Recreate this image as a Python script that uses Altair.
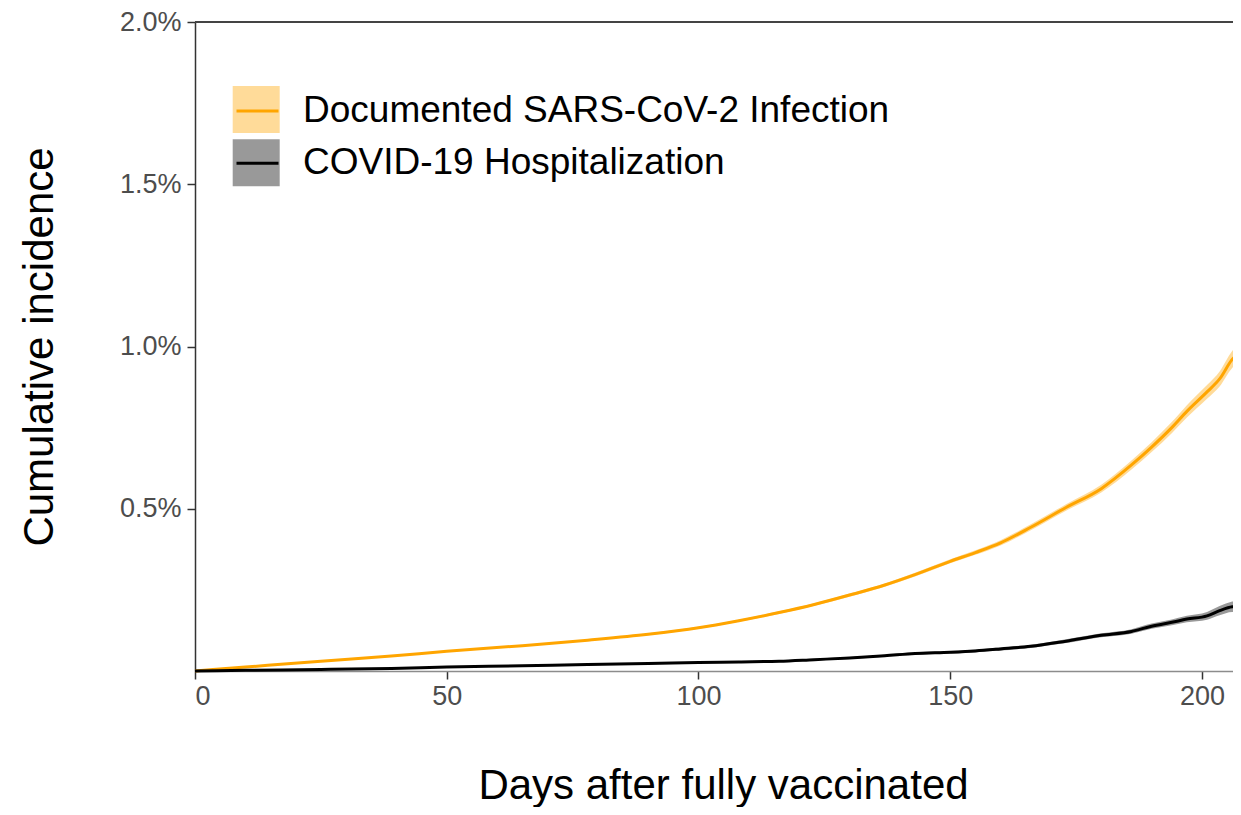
import altair as alt
import pandas as pd

# ---- data (cumulative incidence in %) ----
series = ["Documented SARS-CoV-2 Infection", "COVID-19 Hospitalization"]
days = [0, 10, 25, 39, 50, 65, 78, 90, 100, 108, 116, 123, 130, 137, 143,
        150, 155, 160, 166, 173, 180, 186, 190, 194, 197, 201, 203.5, 206, 207.75]
infection = [0, 0.012, 0.030, 0.046, 0.061, 0.078, 0.095, 0.113, 0.133, 0.155,
             0.180, 0.205, 0.234, 0.265, 0.297, 0.338, 0.365, 0.395, 0.443,
             0.504, 0.562, 0.635, 0.690, 0.750, 0.800, 0.860, 0.900, 0.960, 0.985]
infection_ci = [0, 0, 0.001, 0.001, 0.002, 0.002, 0.002, 0.003, 0.003, 0.003,
                0.004, 0.004, 0.005, 0.005, 0.006, 0.006, 0.007, 0.008, 0.009,
                0.010, 0.012, 0.014, 0.015, 0.017, 0.019, 0.021, 0.023, 0.026, 0.028]
hosp = [0, 0.002, 0.005, 0.008, 0.012, 0.016, 0.020, 0.023, 0.026, 0.028,
        0.030, 0.035, 0.040, 0.047, 0.054, 0.058, 0.062, 0.068, 0.076,
        0.092, 0.110, 0.122, 0.138, 0.150, 0.160, 0.170, 0.186, 0.198, 0.200]
hosp_ci = [0, 0, 0.001, 0.001, 0.001, 0.001, 0.002, 0.002, 0.002, 0.002,
           0.003, 0.003, 0.003, 0.003, 0.004, 0.004, 0.004, 0.005, 0.005,
           0.006, 0.006, 0.007, 0.008, 0.009, 0.010, 0.012, 0.014, 0.016, 0.018]
x_ticks = [0, 50, 100, 150, 200]
y_ticks = [0.005, 0.010, 0.015, 0.020]
colors = ["#FFA500", "#000000"]

rows = []
for vals, cis, name in [(infection, infection_ci, series[0]), (hosp, hosp_ci, series[1])]:
    for d, v, c in zip(days, vals, cis):
        rows.append({"day": d, "value": v / 100, "lo": (v - c) / 100,
                     "hi": (v + c) / 100, "series": name, "band": name})
df = pd.DataFrame(rows)

FONT = "Liberation Sans"
W, H = 1038, 649

xscale = alt.Scale(domain=[0, 206.16], nice=False, zero=True)
yscale = alt.Scale(domain=[0, 0.02], nice=False)

xaxis = alt.Axis(values=x_ticks, title="Days after fully vaccinated", grid=False,
                 domainColor="#8c8c8c", domainWidth=1.5, tickColor="#333333",
                 tickWidth=1.5, tickSize=8, labelFontSize=27, labelColor="#4D4D4D",
                 labelPadding=4, titleFontSize=42, titleFontWeight="normal",
                 titleColor="#000000", titleBaseline="alphabetic", titleY=127,
                 titleX=528)
yaxis = alt.Axis(values=y_ticks, format=".1%", title="Cumulative incidence", grid=False,
                 domainColor="#333333", domainWidth=1.5, tickColor="#333333",
                 tickWidth=1.5, tickSize=8, labelFontSize=27, labelColor="#4D4D4D",
                 labelPadding=6, titleFontSize=42, titleFontWeight="normal",
                 titleColor="#000000", titleBaseline="alphabetic", titleX=-143)

band = alt.Chart(df).mark_area(opacity=0.4, interpolate="monotone").encode(
    x=alt.X("day:Q", scale=xscale, axis=xaxis),
    y=alt.Y("lo:Q", scale=yscale, axis=yaxis),
    y2="hi:Q",
    fill=alt.Fill("band:N", scale=alt.Scale(domain=series, range=colors),
                  legend=alt.Legend(orient="none", legendX=37.7, legendY=64,
                                    title=None, symbolType="square", symbolSize=2209,
                                    symbolStrokeWidth=0, symbolOpacity=0.4,
                                    labelExpr="''", labelFontSize=10,
                                    rowPadding=6.3, padding=0, offset=0)),
)

line = alt.Chart(df).mark_line(strokeWidth=3, interpolate="monotone").encode(
    x=alt.X("day:Q", scale=xscale),
    y=alt.Y("value:Q", scale=yscale),
    stroke=alt.Stroke("series:N", scale=alt.Scale(domain=series, range=colors),
                      legend=alt.Legend(orient="none", legendX=40, legendY=66.5,
                                        title=None, symbolType="stroke", symbolSize=1764,
                                        symbolStrokeWidth=3, labelFontSize=37,
                                        labelColor="#000000", labelOffset=23,
                                        rowPadding=11.3, padding=0, offset=0,
                                        labelLimit=800)),
)

top = alt.Chart(pd.DataFrame({"y": [0.02]})).mark_rule(color="#444444", strokeWidth=2).encode(
    y=alt.Y("y:Q", scale=yscale)
)

chart = alt.layer(band, line, top).resolve_scale(fill="independent", stroke="independent").properties(
    width=W, height=H,
    padding={"left": 187, "top": 14, "right": 0, "bottom": 136},
    autosize=alt.AutoSizeParams(type="none"),
).configure(font=FONT).configure_view(stroke=None)

chart.save("out.html", embed_options={"renderer": "svg", "actions": False})
